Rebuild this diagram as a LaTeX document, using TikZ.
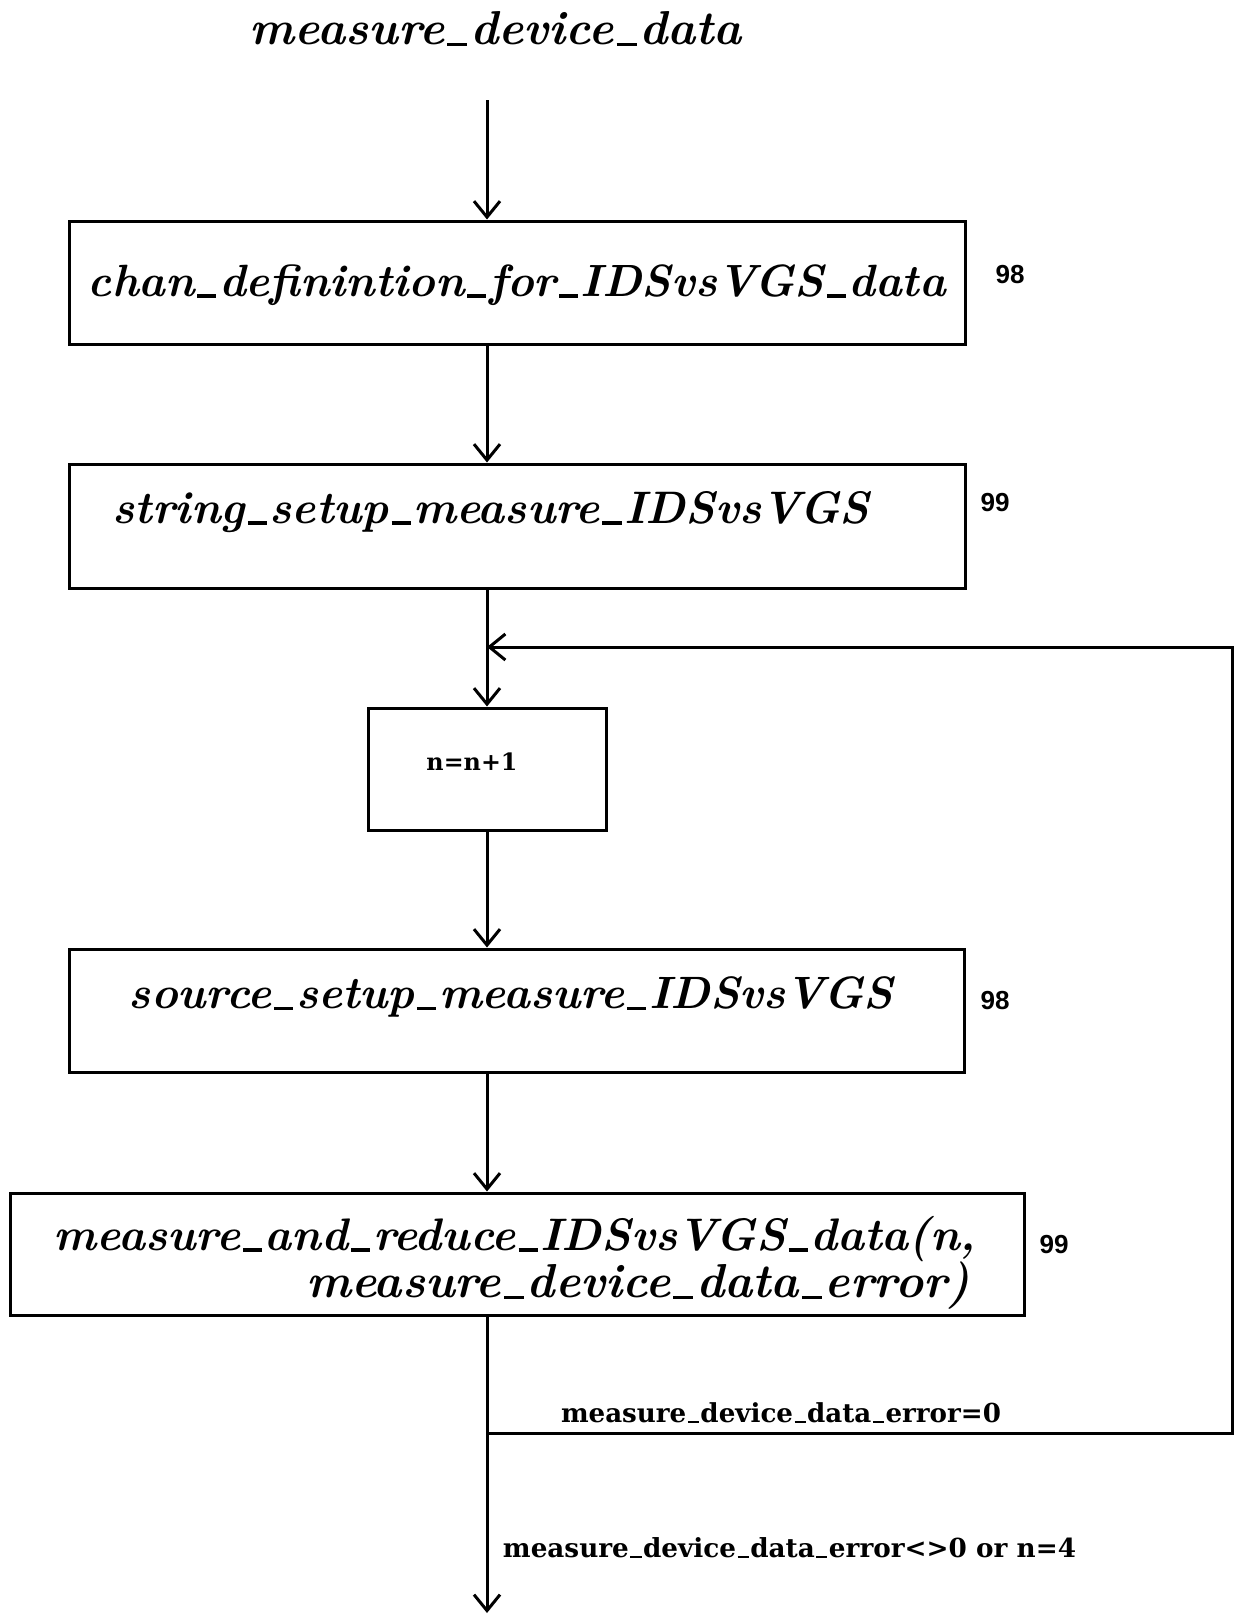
\documentclass[tikz,border=0pt]{standalone}
\usepackage{fontspec}
\usepackage{graphicx}
\usetikzlibrary{arrows.meta}
\newfontfamily\labfont{DejaVu Serif}
\newfontfamily\numfont{Liberation Sans}
% scale a piece of text to a given width (in pt)
\newcommand{\fitto}[2]{\resizebox{#1pt}{!}{#2}}
% short low underscore, as the plotter font draws it
\newcommand{\us}{\kern0.06em\rule[-0.03em]{0.42em}{0.075em}\kern0.06em}
\newcommand{\ital}{\bfseries\itshape}

\begin{document}
\begin{tikzpicture}[x=1pt,y=-1pt,line width=3pt,
  box/.style={draw,rectangle,inner sep=0pt,line width=3pt},
  txt/.style={inner sep=0pt,anchor=center},
  num/.style={inner sep=0pt,anchor=center,font=\numfont\bfseries},
  flow/.style={-{Straight Barb[length=16pt,width=26pt,line width=3pt]}},
]
\useasboundingbox[fill=white] (0,0) rectangle (1238,1615);

% boxes
\node[box,minimum width=896pt,minimum height=123pt] (b1) at (517,282.5) {};
\node[box,minimum width=896pt,minimum height=124pt] (b2) at (517,526) {};
\node[box,minimum width=238pt,minimum height=122pt] (b3) at (487,769) {};
\node[box,minimum width=895pt,minimum height=123pt] (b4) at (516.5,1010.5) {};
\node[box,minimum width=1014pt,minimum height=122pt] (b5) at (517,1254) {};

% texts
\node[txt] (title) at (496,29) {\fitto{492}{\ital measure\us device\us data}};
\node[txt] (t1) at (517,285) {\fitto{858}{\ital chan\us definintion\us for\us IDSvsVGS\us data}};
\node[txt] (t2) at (491,512) {\fitto{757}{\ital string\us setup\us measure\us IDSvsVGS}};
\node[txt] (t3) at (472,762) {\fitto{91}{\labfont\bfseries n=n+1}};
\node[txt] (t4) at (511,997) {\fitto{764}{\ital source\us setup\us measure\us IDSvsVGS}};
\node[txt] (t5a) at (515,1239) {\fitto{922}{\ital measure\us and\us reduce\us IDSvsVGS\us data(n,}};
\node[txt] (t5b) at (638,1286) {\fitto{663}{\ital measure\us device\us data\us error)}};

% reference numbers
\node[num] (n1) at (1010,275) {\fitto{29}{98}};
\node[num] (n2) at (995,503) {\fitto{29}{99}};
\node[num] (n4) at (995,1001) {\fitto{29}{98}};
\node[num] (n5) at (1054,1245) {\fitto{29}{99}};

% branch conditions
\node[txt] (c1) at (781,1413) {\fitto{440}{\labfont\bfseries measure\us device\us data\us error=0}};
\node[txt] (c2) at (789.5,1548) {\fitto{573}{\labfont\bfseries measure\us device\us data\us error<>0 or n=4}};

% connector points
\coordinate (start) at (487,100);
\coordinate (join) at (487,647);
\coordinate (split) at (487,1433);
\coordinate (rlow) at (1232,1433);
\coordinate (rhigh) at (1232,647);
\coordinate (exit) at (487,1613);

% flow
\draw[flow] (start) -- (start |- b1.north);
\draw[flow] (b1.south -| start) -- (b2.north -| start);
\draw[flow] (b2.south -| start) -- (b3.north);
\draw[flow] (b3.south) -- (b4.north -| start);
\draw[flow] (b4.south -| start) -- (b5.north -| start);
\draw[flow] (b5.south -| start) -- (exit);
\draw[flow] (split) -- (rlow) -- (rhigh) -- (join);
\end{tikzpicture}
\end{document}
